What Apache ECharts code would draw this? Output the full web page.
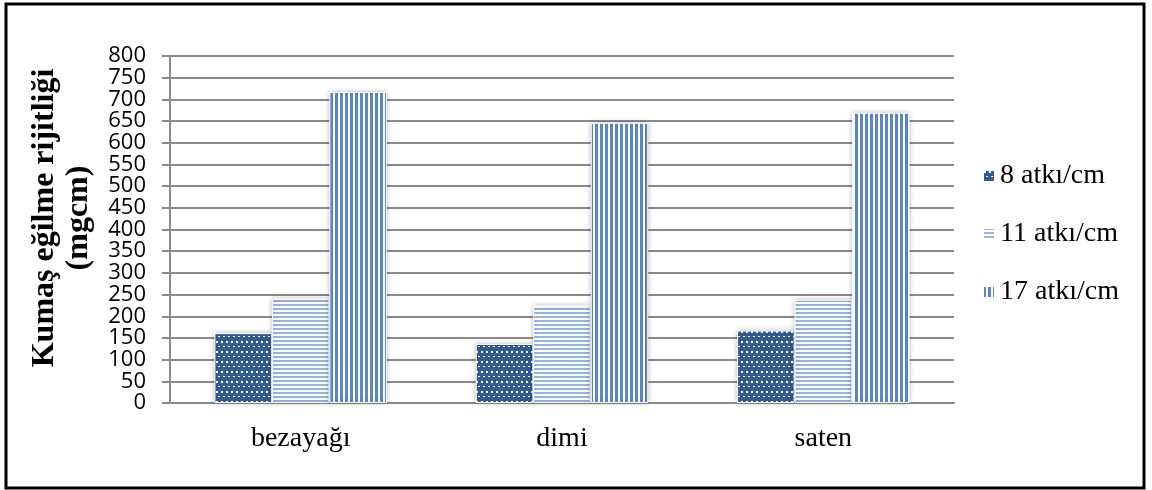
<!DOCTYPE html>
<html><head><meta charset="utf-8">
<script src="https://cdn.jsdelivr.net/npm/echarts@6/dist/echarts.min.js"></script>
<style>html,body{margin:0;padding:0;background:#fff}#c{width:1152px;height:490px}</style>
</head><body><div id="c"></div>
<script>
const categories = ['bezayağı', 'dimi', 'saten'];
const seriesNames = ['8 atkı/cm', '11 atkı/cm', '17 atkı/cm'];
const s8 = [161, 136, 167];
const s11 = [241, 225, 238];
const s17 = [717, 646, 669];
const yTicksA = [0, 100, 200, 300, 400, 500, 600, 700, 800];
const yTicksB = [50, 150, 250, 350, 450, 550, 650, 750];
const yTitle = 'Kumaş eğilme rijitliği\n(mgcm)';

function tile(w, h, draw) {
  const c = document.createElement('canvas');
  c.width = w; c.height = h;
  const g = c.getContext('2d');
  draw(g);
  return { image: c, repeat: 'repeat' };
}
const dots = tile(10, 10, g => {
  g.fillStyle = '#335c8f'; g.fillRect(0, 0, 10, 10);
  g.fillStyle = '#ffffff';
  g.fillRect(1, 1, 2, 2); g.fillRect(6, 1, 2, 2);
  g.fillRect(3, 6, 2, 1); g.fillRect(8, 6, 2, 1);
});
const hStripes = tile(4, 4, g => {
  g.fillStyle = '#ffffff'; g.fillRect(0, 0, 4, 4);
  g.fillStyle = '#93b5e0'; g.fillRect(0, 0, 4, 2);
});
const vStripes = tile(5, 5, g => {
  g.fillStyle = '#ffffff'; g.fillRect(0, 0, 5, 5);
  g.fillStyle = '#5b88c6'; g.fillRect(0, 0, 3, 5);
});
const fills = [dots, hStripes, vStripes];
const datas = [s8, s11, s17];

const labelStyle = { fontFamily: 'Open Sans', fontSize: 22, color: '#000', margin: 24 };

const chart = echarts.init(document.getElementById('c'), null, { renderer: 'canvas' });
chart.setOption({
  animation: false,
  backgroundColor: '#fff',
  graphic: [{
    type: 'rect', shape: { x: 6, y: 4, width: 1138, height: 484 },
    style: { fill: 'none', stroke: '#000', lineWidth: 3 }, z: 100
  }, {
    type: 'text', x: 62, y: 218, rotation: Math.PI / 2,
    style: {
      text: yTitle, font: 'bold 32px "Liberation Serif"', fill: '#000',
      align: 'center', verticalAlign: 'middle', lineHeight: 34
    }
  }],
  grid: { left: 170, right: 198, top: 56, bottom: 87 },
  legend: {
    orient: 'vertical', left: 977, top: 157, itemGap: 30,
    itemWidth: 12, itemHeight: 12, icon: 'rect',
    textStyle: { fontFamily: 'Liberation Serif', fontSize: 28, color: '#000' },
    data: seriesNames
  },
  xAxis: {
    type: 'category', data: categories,
    axisLine: { lineStyle: { color: '#8a8a8a', width: 2 } },
    axisTick: { show: false },
    axisLabel: { fontFamily: 'Liberation Serif', fontSize: 28, color: '#000', margin: 22 }
  },
  yAxis: [{
    type: 'value', min: 0, max: 800, interval: 50, position: 'left',
    axisLine: { show: true, lineStyle: { color: '#8a8a8a', width: 2 } },
    axisTick: { show: true, length: 8, lineStyle: { color: '#8a8a8a', width: 2 } },
    splitLine: { lineStyle: { color: '#8a8a8a', width: 2 } },
    axisLabel: Object.assign({ customValues: yTicksA }, labelStyle)
  }, {
    type: 'value', min: 0, max: 800, interval: 50, position: 'left', offset: 0,
    axisLine: { show: false }, axisTick: { show: false }, splitLine: { show: false },
    axisLabel: Object.assign({ customValues: yTicksB }, labelStyle)
  }],
  series: datas.map((d, i) => ({
    name: seriesNames[i], type: 'bar', data: d, yAxisIndex: 0,
    barGap: '0%', barCategoryGap: '34%',
    itemStyle: {
      color: fills[i], borderColor: '#ffffff', borderWidth: 1,
      shadowBlur: 5, shadowColor: 'rgba(0,0,0,0.25)'
    }
  }))
});
</script></body></html>
